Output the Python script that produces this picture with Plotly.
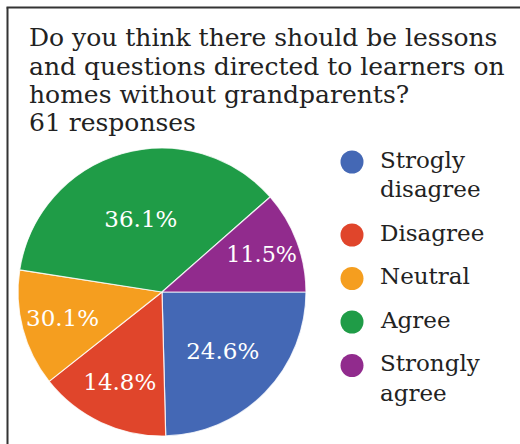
import plotly.graph_objects as go

# Survey results: 61 responses
categories = ["Strogly disagree", "Disagree", "Neutral", "Agree", "Strongly agree"]
responses = [15, 9, 8, 22, 7]
printed_pct = ["24.6", "14.8", "30.1", "36.1", "11.5"]
colors = ["#4468B5", "#E0452B", "#F59E1F", "#1F9C47", "#912B8D"]
title_lines = [
    "Do you think there should be lessons",
    "and questions directed to learners on",
    "homes without grandparents?",
    "61 responses",
]

W, H = 520, 444
SERIF = "DejaVu Serif"


def px(x):
    return x / W


def py(y):
    return 1 - y / H


fig = go.Figure()

fig.add_trace(go.Pie(
    labels=categories,
    values=responses,
    text=[p + "%" for p in printed_pct],
    textinfo="text",
    textposition="inside",
    insidetextorientation="horizontal",
    insidetextfont=dict(family=SERIF, size=23, color="white"),
    marker=dict(colors=colors, line=dict(color="rgba(255,255,255,0.8)", width=1.2)),
    sort=False,
    direction="clockwise",
    rotation=90,
    showlegend=False,
    hoverinfo="label+percent",
    domain=dict(x=[px(18), px(306)], y=[py(436), py(148)]),
))

annotations = []
# Question title, one annotation per line
title_base = [46, 75, 103, 132]
for line, b in zip(title_lines, title_base):
    annotations.append(dict(
        x=px(27), y=py(b - 9), xref="paper", yref="paper",
        xanchor="left", yanchor="middle", showarrow=False,
        text=line, font=dict(family=SERIF, size=25, color="#222222"),
    ))

# Legend with round swatches
shapes = []
y = 167
for i, (name, col) in enumerate(zip(categories, colors)):
    words = name.split(" ")
    cy = y - 5
    shapes.append(dict(
        type="circle", xref="paper", yref="paper",
        x0=px(340.5), x1=px(363.5), y0=py(cy + 11.5), y1=py(cy - 11.5),
        fillcolor=col, line=dict(width=0),
    ))
    for w in words:
        annotations.append(dict(
            x=px(378), y=py(y - 7.5), xref="paper", yref="paper",
            xanchor="left", yanchor="middle", showarrow=False,
            text=w, font=dict(family=SERIF, size=23, color="#222222"),
        ))
        y += 29.5
    y += 14

# Frame lines (left and top)
shapes.append(dict(type="line", xref="paper", yref="paper",
                   x0=px(7.5), x1=px(7.5), y0=0, y1=py(7.5),
                   line=dict(color="#333333", width=2)))
shapes.append(dict(type="line", xref="paper", yref="paper",
                   x0=px(6.5), x1=1, y0=py(7.5), y1=py(7.5),
                   line=dict(color="#333333", width=2)))

fig.update_layout(
    width=W, height=H,
    margin=dict(l=0, r=0, t=0, b=0),
    paper_bgcolor="white",
    plot_bgcolor="white",
    annotations=annotations,
    shapes=shapes,
)

fig.write_html("out.html")
